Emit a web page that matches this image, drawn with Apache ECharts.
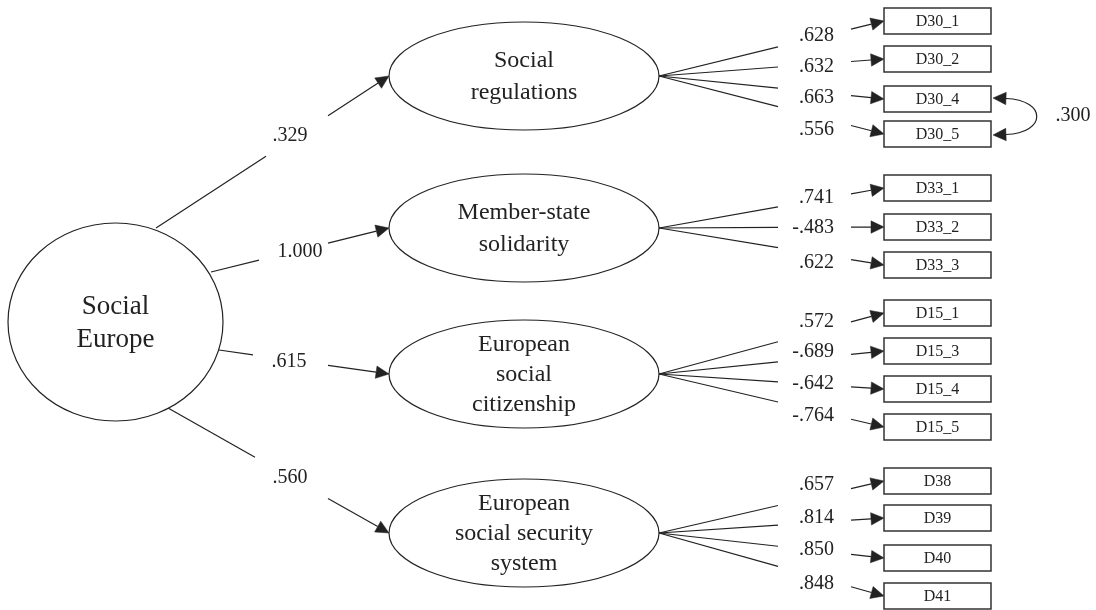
<!DOCTYPE html>
<html><head><meta charset="utf-8">
<script src="https://cdn.jsdelivr.net/npm/echarts@6/dist/echarts.min.js"></script>
<style>html,body{margin:0;padding:0;background:#fff}#c{width:1096px;height:610px}</style>
</head><body><div id="c"></div>
<script>
// ---------------- DATA ----------------
const rootFactor = 'Social\nEurope';
const factors = ['Social\nregulations', 'Member-state\nsolidarity', 'European\nsocial\ncitizenship', 'European\nsocial security\nsystem'];
const structuralLoadings = ['.329', '1.000', '.615', '.560'];
const indicators = ['D30_1','D30_2','D30_4','D30_5','D33_1','D33_2','D33_3','D15_1','D15_3','D15_4','D15_5','D38','D39','D40','D41'];
const indicatorFactor = [0,0,0,0,1,1,1,2,2,2,2,3,3,3,3];
const factorLoadings = ['.628','.632','.663','.556','.741','-.483','.622','.572','-.689','-.642','-.764','.657','.814','.850','.848'];
const covFrom = ['D30_4'];
const covTo = ['D30_5'];
const covValues = ['.300'];

// ---------------- LAYOUT (diagram space = pixel space of the hidden axes) ----------------
const LAYOUT = {
  root: {cx: 115.5, cy: 322, rx: 107.5, ry: 99},
  factorCx: 524, factorRx: 135, factorRy: 54,
  factorCy: [76, 228, 374, 533],
  structStart: [[156,228],[211,272],[219,350],[168,408]],
  structGapX: [[266,328],[259,328],[253,328],[255,328]],
  structLabel: [[290,136],[300,252],[289,362],[290,478]],
  boxX: 884, boxW: 107, boxH: 26,
  boxCy: [21,59,99,134,188,227,265,313,351,389,427,481,518,558,596],
  loadGapX: [778, 851],
  loadLabelRight: 834,
  loadLabelY: [36,67,98,130,198,228,263,322,352,384,416,485,518,550,584],
  covBulgeX: 1047, covLabel: [1073, 116]
};

const FONT = '"Liberation Serif","Times New Roman",serif';
const INK = '#222';
const LW = 1.2;
const AL = 13, AH = 6.2;

function ptAtX(a, b, x) {
  const t = (x - a[0]) / (b[0] - a[0]);
  return [x, a[1] + t * (b[1] - a[1])];
}
function arrow(tip, from) {
  const dx = tip[0] - from[0], dy = tip[1] - from[1];
  const d = Math.hypot(dx, dy) || 1;
  const ux = dx / d, uy = dy / d;
  const base = [tip[0] - ux * AL, tip[1] - uy * AL];
  return {
    base: base,
    el: {type: 'polygon', shape: {points: [tip, [base[0] - uy * AH, base[1] + ux * AH], [base[0] + uy * AH, base[1] - ux * AH]]},
         style: {fill: INK, stroke: INK, lineWidth: 0.5}}
  };
}
function lineEl(p, q) {
  return {type: 'line', shape: {x1: p[0], y1: p[1], x2: q[0], y2: q[1]}, style: {stroke: INK, lineWidth: LW}};
}
function textEl(txt, x, y, size, align, lh) {
  return {type: 'text', style: {text: txt, x: x, y: y, font: size + 'px ' + FONT, fill: INK,
    align: align || 'center', verticalAlign: 'middle', lineHeight: lh || size * 1.2}};
}

// latent variable data
const latentData = [[LAYOUT.root.cx, LAYOUT.root.cy, -1]].concat(
  factors.map((f, i) => [LAYOUT.factorCx, LAYOUT.factorCy[i], i]));

const option = {
  animation: false,
  backgroundColor: '#fff',
  grid: {left: 0, right: 0, top: 0, bottom: 0},
  xAxis: {type: 'value', min: 0, max: 1096, show: false},
  yAxis: {type: 'value', min: 0, max: 610, inverse: true, show: false},
  series: [
    { // structural paths
      type: 'custom', coordinateSystem: 'cartesian2d', silent: true, z: 1,
      data: structuralLoadings.map((v, i) => [i]),
      renderItem: function (params, api) {
        const i = api.value(0);
        const S = api.coord(LAYOUT.structStart[i]);
        const E = api.coord([LAYOUT.factorCx - LAYOUT.factorRx, LAYOUT.factorCy[i]]);
        const g1 = ptAtX(S, E, api.coord([LAYOUT.structGapX[i][0], 0])[0]);
        const g2 = ptAtX(S, E, api.coord([LAYOUT.structGapX[i][1], 0])[0]);
        const a = arrow(E, S);
        const lp = api.coord(LAYOUT.structLabel[i]);
        return {type: 'group', children: [
          lineEl(S, g1), lineEl(g2, a.base), a.el,
          textEl(structuralLoadings[i], lp[0], lp[1], 20)
        ]};
      }
    },
    { // measurement paths
      type: 'custom', coordinateSystem: 'cartesian2d', silent: true, z: 1,
      data: indicators.map((v, k) => [k]),
      renderItem: function (params, api) {
        const k = api.value(0);
        const f = indicatorFactor[k];
        const T = api.coord([LAYOUT.factorCx + LAYOUT.factorRx, LAYOUT.factorCy[f]]);
        const B = api.coord([LAYOUT.boxX, LAYOUT.boxCy[k]]);
        const g1 = ptAtX(T, B, api.coord([LAYOUT.loadGapX[0], 0])[0]);
        const g2 = ptAtX(T, B, api.coord([LAYOUT.loadGapX[1], 0])[0]);
        const a = arrow(B, T);
        const lp = api.coord([LAYOUT.loadLabelRight, LAYOUT.loadLabelY[k]]);
        return {type: 'group', children: [
          lineEl(T, g1), lineEl(g2, a.base), a.el,
          textEl(factorLoadings[k], lp[0], lp[1], 20, 'right')
        ]};
      }
    },
    { // latent variables
      type: 'custom', coordinateSystem: 'cartesian2d', silent: true, z: 2,
      data: latentData,
      renderItem: function (params, api) {
        const i = api.value(2);
        const c = api.coord([api.value(0), api.value(1)]);
        const isRoot = i < 0;
        const r = isRoot ? api.size([LAYOUT.root.rx, LAYOUT.root.ry]) : api.size([LAYOUT.factorRx, LAYOUT.factorRy]);
        const label = isRoot ? rootFactor : factors[i];
        const nLines = label.split('\n').length;
        const size = isRoot ? 27 : 24;
        const lh = isRoot ? 33 : (nLines > 2 ? 30 : 32);
        return {type: 'group', children: [
          {type: 'ellipse', shape: {cx: c[0], cy: c[1], rx: r[0], ry: r[1]}, style: {fill: '#fff', stroke: INK, lineWidth: LW}},
          textEl(label, c[0], c[1] + 1, size, 'center', lh)
        ]};
      }
    },
    { // observed indicators
      type: 'custom', coordinateSystem: 'cartesian2d', silent: true, z: 2,
      data: indicators.map((v, k) => [k]),
      renderItem: function (params, api) {
        const k = api.value(0);
        const p = api.coord([LAYOUT.boxX, LAYOUT.boxCy[k] - LAYOUT.boxH / 2]);
        const s = api.size([LAYOUT.boxW, LAYOUT.boxH]);
        return {type: 'group', children: [
          {type: 'rect', shape: {x: p[0], y: p[1], width: s[0], height: s[1]}, style: {fill: '#fff', stroke: '#333', lineWidth: 1.5}},
          textEl(indicators[k], p[0] + s[0] / 2, p[1] + s[1] / 2 + 0.5, 16)
        ]};
      }
    },
    { // residual covariance
      type: 'custom', coordinateSystem: 'cartesian2d', silent: true, z: 1,
      data: covValues.map((v, j) => [j]),
      renderItem: function (params, api) {
        const j = api.value(0);
        const ka = indicators.indexOf(covFrom[j]), kb = indicators.indexOf(covTo[j]);
        const right = LAYOUT.boxX + LAYOUT.boxW + 2;
        const A = api.coord([right, LAYOUT.boxCy[ka] - 1]);
        const B = api.coord([right, LAYOUT.boxCy[kb] + 1]);
        const C1 = api.coord([LAYOUT.covBulgeX, LAYOUT.boxCy[ka] + 1]);
        const C2 = api.coord([LAYOUT.covBulgeX, LAYOUT.boxCy[kb] - 1]);
        const aA = arrow(A, C1), aB = arrow(B, C2);
        const lp = api.coord(LAYOUT.covLabel);
        return {type: 'group', children: [
          {type: 'bezierCurve', shape: {x1: aA.base[0], y1: aA.base[1], cpx1: C1[0], cpy1: C1[1], cpx2: C2[0], cpy2: C2[1], x2: aB.base[0], y2: aB.base[1]},
           style: {stroke: INK, lineWidth: LW, fill: null}},
          aA.el, aB.el,
          textEl(covValues[j], lp[0], lp[1], 20)
        ]};
      }
    }
  ]
};

const chart = echarts.init(document.getElementById('c'));
chart.setOption(option);
</script>
</body></html>
